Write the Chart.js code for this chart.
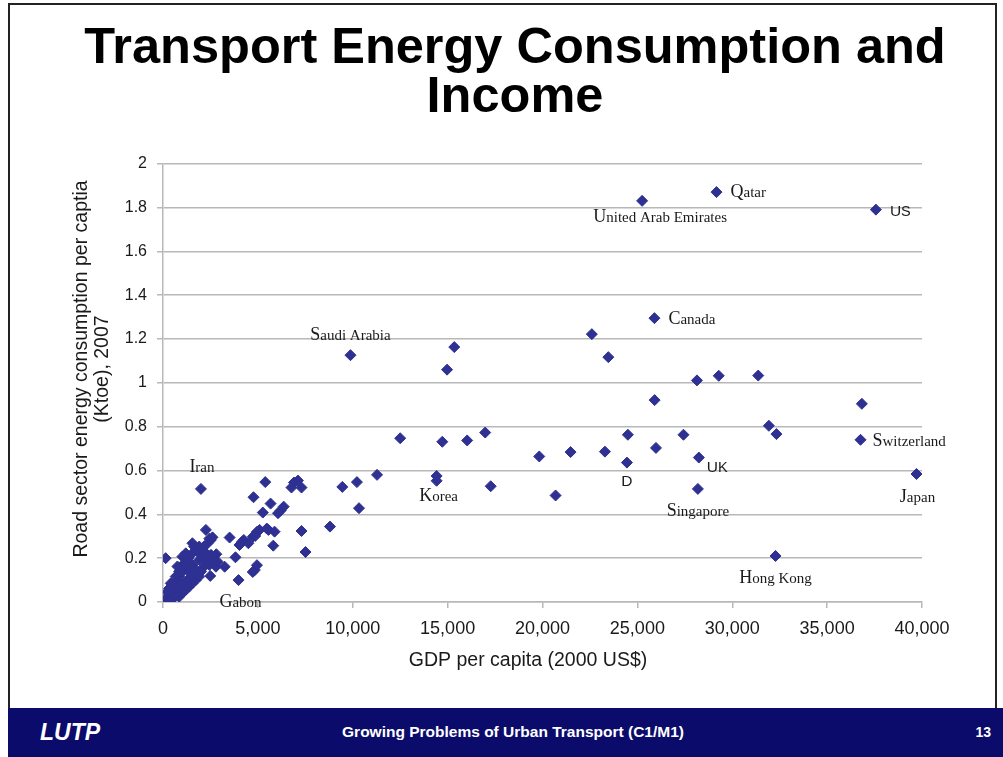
<!DOCTYPE html>
<html lang="en">
<head>
  <meta charset="UTF-8">
  <title>Transport Energy Consumption and Income</title>
  <script src="https://cdn.jsdelivr.net/npm/chart.js"></script>
  <style>
    body {
      margin: 0;
      width: 1003px;
      height: 757px;
      background: #fff;
      position: relative;
      overflow: hidden;
      font-family: "Liberation Sans", Arial, sans-serif;
    }
    .frame {
      position: absolute;
      left: 8px;
      top: 3px;
      width: 989px;
      height: 705px;
      border: 2px solid #222;
      border-bottom: none;
      box-sizing: border-box;
    }
    .title {
      position: absolute;
      left: 15px;
      top: 21px;
      width: 1000px;
      text-align: center;
      font-size: 50.5px;
      font-weight: bold;
      line-height: 49px;
      color: #000;
    }
    #chartBox {
      position: absolute;
      left: 0;
      top: 144px;
      width: 1003px;
      height: 546px;
    }
    .footer {
      position: absolute;
      left: 8px;
      top: 708px;
      width: 995px;
      height: 49px;
      background: #0b0b6b;
      color: #fff;
    }
    .footer .logo {
      position: absolute;
      left: 32px;
      top: 11px;
      font-size: 23px;
      font-weight: bold;
      font-style: italic;
    }
    .footer .course {
      position: absolute;
      left: 0;
      width: 1010px;
      top: 15px;
      text-align: center;
      font-size: 15.5px;
      font-weight: bold;
    }
    .footer .page {
      position: absolute;
      right: 12px;
      top: 16px;
      font-size: 14px;
      font-weight: bold;
    }
  </style>
</head>
<body>
  <div class="frame"></div>
  <div class="title">Transport Energy Consumption and<br>Income</div>

  <div id="chartBox"><canvas id="scatterChart" width="1003" height="546"></canvas></div>

  <div class="footer">
    <div class="logo">LUTP</div>
    <div class="course">Growing Problems of Urban Transport (C1/M1)</div>
    <div class="page">13</div>
  </div>

  <script>
    const xTitle = 'GDP per capita (2000 US$)';
    const yTitle = ['Road sector energy consumption per captia', '(Ktoe), 2007'];
    const xTickLabels = ['0', '5,000', '10,000', '15,000', '20,000', '25,000', '30,000', '35,000', '40,000'];
    const yTickLabels = ['0', '0.2', '0.4', '0.6', '0.8', '1', '1.2', '1.4', '1.6', '1.8', '2'];

    // labelled countries
    const namedCountries = ['United Arab Emirates', 'Qatar', 'US', 'Canada', 'Saudi Arabia', 'Iran', 'Gabon',
      'Korea', 'D', 'UK', 'Singapore', 'Switzerland', 'Japan', 'Hong Kong'];
    const namedGdp = [25250, 29170, 37570, 25900, 9880, 2000, 3980, 14420, 24450, 28240, 28190, 36760, 39710, 32280];
    const namedEnergy = [1.83, 1.87, 1.79, 1.295, 1.126, 0.516, 0.10, 0.553, 0.636, 0.659, 0.516, 0.74, 0.584, 0.21];

    // all the other countries
    const otherGdp = [
      22600, 23470, 28140, 29290, 31370, 25910, 36830, 31930, 32330, 24500, 27430, 23290, 25980,
      12500, 14720, 16030, 16980, 15350, 14970, 8800, 9450, 10220, 10330, 11280, 14420, 17270,
      19830, 20690, 21480,
      5390, 6900, 7110, 7300, 6770, 4770, 5670, 5260, 6060, 6200, 6360, 7300, 7510, 5810,
      4950, 5090, 5470, 5560, 5880, 4860, 4730, 4260, 4030, 4170, 4120, 4500, 3510,
      4950, 4840, 4730, 3820, 3250, 2490, 2810, 2260, 2520, 2610, 2350, 2440, 1550, 1640,
      140, 1020, 1200, 1340, 1470, 1730, 1910, 2080, 2150, 2260, 2440, 2790,
      50, 230, 140, 320, 410, 490, 580, 670, 760, 850, 940, 1020, 1110, 1200, 1290,
      580, 760, 940, 1110, 1290, 1470, 1640, 1730, 850, 1020, 1200, 1380, 1550, 1730, 1910,
      2000, 2080, 320, 490, 670, 410, 320, 230, 670, 850, 1020, 760, 1380, 1550,
      1910, 2080, 2260, 2530, 2700, 2880, 1910, 2170, 2350
    ];
    const otherEnergy = [
      1.222, 1.117, 1.011, 1.032, 1.033, 0.921, 0.904, 0.804, 0.766, 0.763, 0.763, 0.686, 0.703,
      0.747, 0.731, 0.737, 0.773, 1.163, 1.06, 0.344, 0.525, 0.547, 0.428, 0.58, 0.575, 0.528,
      0.664, 0.486, 0.684,
      0.547, 0.545, 0.554, 0.522, 0.522, 0.478, 0.449, 0.408, 0.405, 0.417, 0.435, 0.324, 0.228, 0.257,
      0.32, 0.329, 0.335, 0.329, 0.321, 0.301, 0.298, 0.283, 0.26, 0.275, 0.268, 0.268, 0.294,
      0.168, 0.146, 0.137, 0.204, 0.161, 0.119, 0.218, 0.329, 0.283, 0.295, 0.268, 0.289, 0.268, 0.253,
      0.2, 0.207, 0.222, 0.2, 0.215, 0.237, 0.222, 0.207, 0.195, 0.184, 0.169, 0.161,
      0.0, 0.002, 0.017, 0.024, 0.04, 0.055, 0.07, 0.085, 0.1, 0.116, 0.131, 0.139, 0.154, 0.169, 0.177,
      0.024, 0.047, 0.062, 0.085, 0.1, 0.116, 0.131, 0.146, 0.024, 0.04, 0.055, 0.07, 0.085, 0.1, 0.116,
      0.139, 0.154, 0.009, 0.012, 0.032, 0.085, 0.062, 0.047, 0.116, 0.139, 0.169, 0.162, 0.139, 0.169,
      0.253, 0.237, 0.222, 0.215, 0.192, 0.184, 0.192, 0.253, 0.215
    ];

    const points = namedGdp.map((g, i) => ({ x: g, y: namedEnergy[i] }))
      .concat(otherGdp.map((g, i) => ({ x: g, y: otherEnergy[i] })));

    // where each country name sits relative to its marker
    const labelPlacement = {
      'United Arab Emirates': { dx: 18, dy: 21, align: 'center' },
      'Qatar': { dx: 14, dy: 5, align: 'left' },
      'US': { dx: 14, dy: 6, align: 'left', sans: true },
      'Canada': { dx: 14, dy: 6, align: 'left' },
      'Saudi Arabia': { dx: 0, dy: -15, align: 'center' },
      'Iran': { dx: 1, dy: -17, align: 'center' },
      'Gabon': { dx: 2, dy: 27, align: 'center' },
      'Korea': { dx: 2, dy: 20, align: 'center' },
      'D': { dx: 0, dy: 23, align: 'center', sans: true },
      'UK': { dx: 8, dy: 14, align: 'left', sans: true },
      'Singapore': { dx: 0, dy: 27, align: 'center' },
      'Switzerland': { dx: 12, dy: 6, align: 'left' },
      'Japan': { dx: 1, dy: 28, align: 'center' },
      'Hong Kong': { dx: 0, dy: 27, align: 'center' }
    };

    const countryLabels = {
      id: 'countryLabels',
      afterDatasetsDraw(chart) {
        const ctx = chart.ctx;
        const xs = chart.scales.x, ys = chart.scales.y;
        ctx.save();
        ctx.fillStyle = '#1a1a1a';
        ctx.textBaseline = 'alphabetic';
        namedCountries.forEach((name, i) => {
          const p = labelPlacement[name];
          const px = xs.getPixelForValue(namedGdp[i]) + p.dx;
          const py = ys.getPixelForValue(namedEnergy[i]) + p.dy;
          const fam = p.sans ? '"Liberation Sans", Arial, sans-serif' : '"Liberation Serif", "Times New Roman", serif';
          const bigFont = (p.sans ? 15.5 : 18) + 'px ' + fam;
          const smallFont = (p.sans ? 14.5 : 15) + 'px ' + fam;
          const first = name[0], rest = name.slice(1);
          ctx.font = bigFont;
          const w1 = ctx.measureText(first).width;
          ctx.font = smallFont;
          const w2 = ctx.measureText(rest).width;
          let left = px;
          if (p.align === 'center') left = px - (w1 + w2) / 2;
          ctx.textAlign = 'left';
          ctx.font = bigFont;
          ctx.fillText(first, left, py);
          ctx.font = smallFont;
          ctx.fillText(rest, left + w1, py);
        });
        ctx.restore();
      }
    };

    const canvasTop = 144;
    const axisTitles = {
      id: 'axisTitles',
      afterDraw(chart) {
        const ctx = chart.ctx;
        ctx.save();
        ctx.fillStyle = '#1a1a1a';
        ctx.font = '19.5px "Liberation Sans", Arial, sans-serif';
        ctx.textAlign = 'center';
        ctx.textBaseline = 'alphabetic';
        ctx.fillText(xTitle, 528, 666 - canvasTop);

        ctx.font = '19.5px "Liberation Sans", Arial, sans-serif';
        ctx.translate(0, 369 - canvasTop);
        ctx.rotate(-Math.PI / 2);
        ctx.fillText(yTitle[0], 0, 86.5);
        ctx.fillText(yTitle[1], 0, 108);
        ctx.restore();
      }
    };

    const gridGray = '#b8b8b8';

    new Chart(document.getElementById('scatterChart'), {
      type: 'scatter',
      data: {
        datasets: [{
          label: 'Countries',
          data: points,
          pointStyle: 'rectRot',
          pointRadius: 5.5,
          backgroundColor: '#2e3192',
          borderColor: '#2e3192',
          borderWidth: 1
        }]
      },
      options: {
        responsive: false,
        animation: false,
        layout: { padding: { top: 14, right: 81, left: 0, bottom: 0 } },
        plugins: {
          legend: { display: false },
          tooltip: { enabled: false }
        },
        scales: {
          x: {
            type: 'linear',
            min: 0,
            max: 40000,
            afterFit(scale) { scale.height = 88; },
            afterBuildTicks(scale) {
              scale.ticks = xTickLabels.map((t, i) => ({ value: i * 5000 }));
            },
            ticks: {
              color: '#1a1a1a',
              font: { size: 18, family: '"Liberation Sans", Arial, sans-serif' },
              padding: 10,
              maxRotation: 0,
              autoSkip: false,
              callback: (v, i) => xTickLabels[i]
            },
            grid: { drawOnChartArea: false, drawTicks: true, tickLength: 6, color: gridGray, lineWidth: 1.5 },
            border: { display: true, color: gridGray, width: 1.5 }
          },
          y: {
            type: 'linear',
            min: 0,
            max: 2,
            afterFit(scale) { scale.width = 163; },
            afterBuildTicks(scale) {
              scale.ticks = yTickLabels.map((t, i) => ({ value: i * 0.2 }));
            },
            ticks: {
              color: '#1a1a1a',
              font: { size: 16, family: '"Liberation Sans", Arial, sans-serif' },
              padding: 10,
              autoSkip: false,
              callback: (v, i) => yTickLabels[i]
            },
            grid: { color: gridGray, lineWidth: 1.5, tickLength: 6 },
            border: { display: true, color: gridGray, width: 1.5 }
          }
        }
      },
      plugins: [countryLabels, axisTitles]
    });
  </script>
</body>
</html>
